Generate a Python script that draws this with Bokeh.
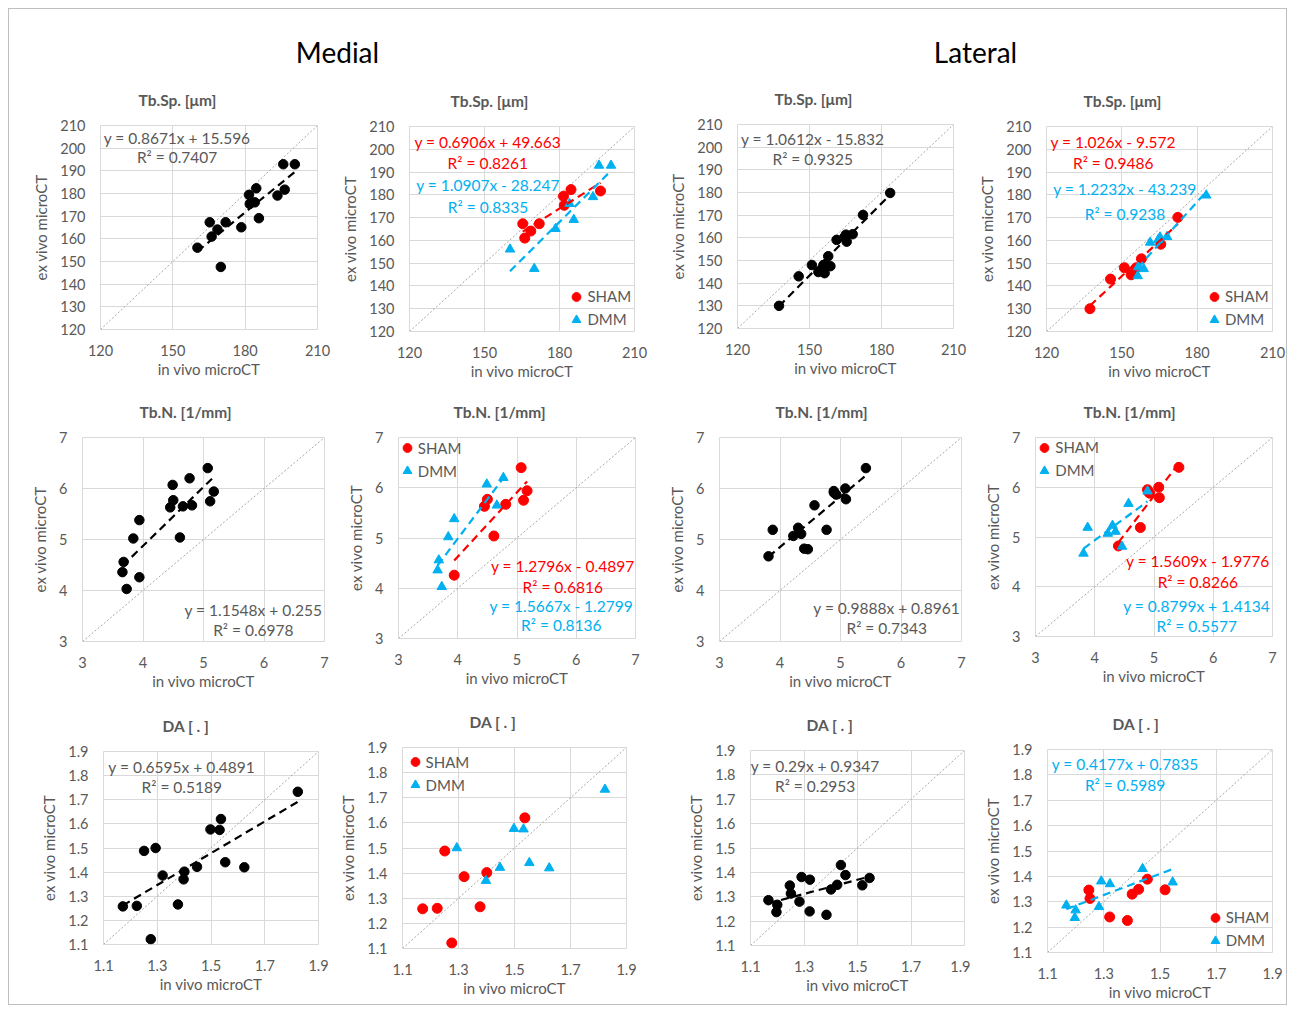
import numpy as np
from bokeh.plotting import figure
from bokeh.layouts import column, row
from bokeh.models import Range1d, FixedTicker, Legend, LegendItem, Label
from bokeh.embed import file_html
from bokeh.resources import INLINE
from bokeh.core.properties import value

# ------------------------------------------------------------------ data
# Tb.Sp. [um] -- medial
med_tbsp_sham_x = [165.3, 166.1, 168.5, 171.9, 181.6, 181.9, 184.6, 196.4]
med_tbsp_sham_y = [167.3, 161.0, 164.1, 167.3, 179.4, 175.4, 182.3, 181.7]
med_tbsp_dmm_x = [160.2, 169.9, 178.4, 184.0, 185.7, 193.4, 195.8, 200.6]
med_tbsp_dmm_y = [156.1, 147.6, 165.1, 176.1, 169.1, 179.1, 192.9, 192.9]
# Tb.Sp. [um] -- lateral
lat_tbsp_sham_x = [137.3, 145.5, 151.0, 153.7, 155.8, 157.8, 165.5, 172.3]
lat_tbsp_sham_y = [130.0, 143.0, 148.0, 144.9, 148.0, 151.9, 158.3, 170.1]
lat_tbsp_dmm_x = [156.3, 156.5, 158.7, 161.3, 164.5, 165.2, 168.0, 183.6]
lat_tbsp_dmm_y = [144.4, 148.3, 147.5, 159.1, 160.3, 161.4, 161.6, 179.8]
# Tb.N. [1/mm] -- medial
med_tbn_sham_x = [3.94, 4.45, 4.50, 4.61, 4.81, 5.07, 5.11, 5.17]
med_tbn_sham_y = [4.26, 5.63, 5.77, 5.04, 5.67, 6.40, 5.75, 5.94]
med_tbn_dmm_x = [3.66, 3.68, 3.73, 3.84, 3.94, 4.49, 4.66, 4.77]
med_tbn_dmm_y = [4.36, 4.56, 4.03, 5.02, 5.38, 6.07, 5.65, 6.20]
# Tb.N. [1/mm] -- lateral
lat_tbn_sham_x = [4.40, 4.77, 4.89, 4.91, 4.93, 5.08, 5.09, 5.42]
lat_tbn_sham_y = [4.82, 5.19, 5.95, 5.90, 5.88, 6.00, 5.79, 6.40]
lat_tbn_dmm_x = [3.81, 3.88, 4.22, 4.30, 4.35, 4.46, 4.57, 4.89]
lat_tbn_dmm_y = [4.67, 5.19, 5.07, 5.23, 5.11, 4.81, 5.67, 5.92]
# DA [.] -- medial
med_da_sham_x = [1.172, 1.224, 1.251, 1.276, 1.320, 1.377, 1.401, 1.537]
med_da_sham_y = [1.258, 1.260, 1.488, 1.122, 1.386, 1.266, 1.402, 1.620]
med_da_dmm_x = [1.294, 1.398, 1.448, 1.498, 1.532, 1.553, 1.624, 1.823]
med_da_dmm_y = [1.500, 1.370, 1.422, 1.577, 1.575, 1.441, 1.420, 1.733]
# DA [.] -- lateral
lat_da_sham_x = [1.247, 1.251, 1.321, 1.384, 1.401, 1.424, 1.455, 1.518]
lat_da_sham_y = [1.346, 1.313, 1.240, 1.226, 1.330, 1.349, 1.389, 1.347]
lat_da_dmm_x = [1.167, 1.197, 1.200, 1.283, 1.291, 1.322, 1.438, 1.545]
lat_da_dmm_y = [1.286, 1.237, 1.267, 1.280, 1.381, 1.370, 1.430, 1.377]

# axes
tbsp_range = [120, 210]
tbsp_xticks = [120, 150, 180, 210]
tbsp_yticks = [120, 130, 140, 150, 160, 170, 180, 190, 200, 210]
tbn_range = [3, 7]
tbn_ticks = [3, 4, 5, 6, 7]
da_range = [1.1, 1.9]
da_xticks = [1.1, 1.3, 1.5, 1.7, 1.9]
da_yticks = [1.1, 1.2, 1.3, 1.4, 1.5, 1.6, 1.7, 1.8, 1.9]

titles = ["Tb.Sp. [\u03bcm]", "Tb.N. [1/mm]", "DA [ . ]"]
side_titles = ["Medial", "Lateral"]
x_label = "in vivo microCT"
y_label = "ex vivo microCT"
group_names = ["SHAM", "DMM"]

# trend lines: (slope, intercept, R2)
eq_med_tbsp_all = (0.8671, 15.596, 0.7407)
eq_med_tbsp_sham = (0.6906, 49.663, 0.8261)
eq_med_tbsp_dmm = (1.0907, -28.247, 0.8335)
eq_lat_tbsp_all = (1.0612, -15.832, 0.9325)
eq_lat_tbsp_sham = (1.026, -9.572, 0.9486)
eq_lat_tbsp_dmm = (1.2232, -43.239, 0.9238)
eq_med_tbn_all = (1.1548, 0.255, 0.6978)
eq_med_tbn_sham = (1.2796, -0.4897, 0.6816)
eq_med_tbn_dmm = (1.5667, -1.2799, 0.8136)
eq_lat_tbn_all = (0.9888, 0.8961, 0.7343)
eq_lat_tbn_sham = (1.5609, -1.9776, 0.8266)
eq_lat_tbn_dmm = (0.8799, 1.4134, 0.5577)
eq_med_da_all = (0.6595, 0.4891, 0.5189)
eq_lat_da_all = (0.29, 0.9347, 0.2953)
eq_lat_da_dmm = (0.4177, 0.7835, 0.5989)

# ------------------------------------------------------------------ style
FONT = "Lato"
GRAY = "#595959"
RED = "#FF0000"
BLUE = "#00B0F0"
BLACK = "#000000"
GRID = "#D9D9D9"

ORIG = 9  # content origin inside the outer frame (8px margin + 1px border)
col_edges = [ORIG, 336, 657, 970, 1286]
row_edges = [69, 382, 692, 1004]


def fmt_eq(s, b):
    sign = "+" if b >= 0 else "-"
    return f"y = {s}x {sign} {abs(b)}"


def make_fig(ci, ri, frame, rng, xt, yt, title, tleft):
    cl, cr = col_edges[ci], col_edges[ci + 1]
    rt, rb = row_edges[ri], row_edges[ri + 1]
    fl, ft, fr, fb = frame
    p = figure(width=cr - cl, height=rb - rt,
               x_range=Range1d(rng[0], rng[1]), y_range=Range1d(rng[0], rng[1]),
               min_border_left=fl - cl, min_border_right=cr - fr,
               min_border_top=ft - rt, min_border_bottom=rb - fb,
               output_backend="svg", toolbar_location=None, tools="")
    p.title.text = title
    p.title.align = "left"
    p.title.offset = tleft - fl
    p.title.text_font = FONT
    p.title.text_font_size = "15.5px"
    p.title.text_font_style = "bold"
    p.title.text_color = GRAY
    p.title.standoff = 33
    p.outline_line_color = GRID
    p.background_fill_color = "white"
    p.border_fill_color = "white"
    for ax, ticks in ((p.xaxis, xt), (p.yaxis, yt)):
        ax.ticker = FixedTicker(ticks=ticks)
        ax.major_label_overrides = {t: (f"{t:g}") for t in ticks}
        ax.axis_line_color = None
        ax.major_tick_line_color = None
        ax.minor_tick_line_color = None
        ax.major_label_text_font = FONT
        ax.major_label_text_font_size = "14.5px"
        ax.major_label_text_color = GRAY
        ax.axis_label_text_font = FONT
        ax.axis_label_text_font_size = "15px"
        ax.axis_label_text_font_style = "normal"
        ax.axis_label_text_color = GRAY
    p.xaxis.axis_label = x_label
    p.yaxis.axis_label = y_label
    p.xaxis.major_label_standoff = 9
    p.xaxis.axis_label_standoff = 1
    p.yaxis.major_label_standoff = 9
    p.yaxis.axis_label_standoff = 7
    p.xgrid.ticker = FixedTicker(ticks=xt)
    p.ygrid.ticker = FixedTicker(ticks=yt)
    p.xgrid.grid_line_color = GRID
    p.ygrid.grid_line_color = GRID
    # identity line
    p.line(x=rng, y=rng, line_color="#A6A6A6", line_width=1, line_dash="2 2")
    return p


def trend(p, xs, coef, color):
    s, b, _ = coef
    xe = [min(xs), max(xs)]
    ye = [s * v + b for v in xe]
    p.line(x=xe, y=ye, line_color=color, line_width=2.2, line_dash="8 5")


def eq_label(p, rng, coef, color, fx, fy1, fy2):
    s, b, r2 = coef
    span = rng[1] - rng[0]
    x = rng[0] + fx * span
    for txt, fy in ((fmt_eq(s, b), fy1), (f"R\u00b2 = {r2}", fy2)):
        p.add_layout(Label(x=x, y=rng[0] + fy * span, text=txt, text_align="center",
                           text_baseline="middle", text_font=FONT,
                           text_font_size="15.5px", text_color=color))


def legend(p, r_s, r_d, frame, fx, fy):
    fl, ft, fr, fb = frame
    fw, fh = fr - fl, fb - ft
    lg = Legend(items=[LegendItem(label=group_names[0], renderers=[r_s]),
                       LegendItem(label=group_names[1], renderers=[r_d])],
                location=(fx * fw - 11, fy * fh - 11.5),
                background_fill_alpha=0, border_line_color=None,
                padding=0, margin=0, spacing=0, glyph_width=22, glyph_height=23,
                label_height=23, label_standoff=0, label_text_font=FONT,
                label_text_font_size="15px", label_text_color=GRAY)
    p.add_layout(lg, "center")


def combined(ci, ri, frame, rng, xt, yt, title, tl, sx, sy, dx, dy, coef, efx, efy1, efy2):
    p = make_fig(ci, ri, frame, rng, xt, yt, title, tl)
    ax = list(sx) + list(dx)
    ay = list(sy) + list(dy)
    p.scatter(x=ax, y=ay, size=9.5, marker="circle", color=BLACK)
    trend(p, ax, coef, BLACK)
    eq_label(p, rng, coef, GRAY, efx, efy1, efy2)
    return p


def grouped(ci, ri, frame, rng, xt, yt, title, tl, sx, sy, dx, dy, eqs, leg):
    p = make_fig(ci, ri, frame, rng, xt, yt, title, tl)
    r_s = p.scatter(x=sx, y=sy, size=10, marker="circle", color=RED)
    r_d = p.scatter(x=dx, y=dy, size=9.5, marker="triangle", color=BLUE)
    for grp, coef, efx, efy1, efy2 in eqs:
        xs = sx if grp == 0 else dx
        col = RED if grp == 0 else BLUE
        trend(p, xs, coef, col)
        eq_label(p, rng, coef, col, efx, efy1, efy2)
    legend(p, r_s, r_d, frame, leg[0], leg[1])
    return p


p1 = combined(0, 0, (100, 125, 317, 329), tbsp_range, tbsp_xticks, tbsp_yticks, titles[0], 138,
              med_tbsp_sham_x, med_tbsp_sham_y, med_tbsp_dmm_x, med_tbsp_dmm_y,
              eq_med_tbsp_all, 0.353, 0.938, 0.845)
p2 = grouped(1, 0, (409, 126, 634, 332), tbsp_range, tbsp_xticks, tbsp_yticks, titles[0], 450,
             med_tbsp_sham_x, med_tbsp_sham_y, med_tbsp_dmm_x, med_tbsp_dmm_y,
             [(0, eq_med_tbsp_sham, 0.348, 0.924, 0.822), (1, eq_med_tbsp_dmm, 0.349, 0.713, 0.608)],
             (0.744, 0.057))
p3 = combined(2, 0, (737, 124, 953, 328), tbsp_range, tbsp_xticks, tbsp_yticks, titles[0], 774,
              lat_tbsp_sham_x, lat_tbsp_sham_y, lat_tbsp_dmm_x, lat_tbsp_dmm_y,
              eq_lat_tbsp_all, 0.348, 0.931, 0.830)
p4 = grouped(3, 0, (1046, 126, 1272, 332), tbsp_range, tbsp_xticks, tbsp_yticks, titles[0], 1083,
             lat_tbsp_sham_x, lat_tbsp_sham_y, lat_tbsp_dmm_x, lat_tbsp_dmm_y,
             [(0, eq_lat_tbsp_sham, 0.295, 0.925, 0.823), (1, eq_lat_tbsp_dmm, 0.347, 0.694, 0.575)],
             (0.743, 0.057))

p5 = combined(0, 1, (82, 437, 324, 641), tbn_range, tbn_ticks, tbn_ticks, titles[1], 139,
              med_tbn_sham_x, med_tbn_sham_y, med_tbn_dmm_x, med_tbn_dmm_y,
              eq_med_tbn_all, 0.706, 0.152, 0.054)
p6 = grouped(1, 1, (398, 437, 635, 638), tbn_range, tbn_ticks, tbn_ticks, titles[1], 453,
             med_tbn_sham_x, med_tbn_sham_y, med_tbn_dmm_x, med_tbn_dmm_y,
             [(0, eq_med_tbn_sham, 0.693, 0.362, 0.254), (1, eq_med_tbn_dmm, 0.687, 0.163, 0.066)],
             (0.037, 0.833))
p7 = combined(2, 1, (719, 437, 961, 641), tbn_range, tbn_ticks, tbn_ticks, titles[1], 775,
              lat_tbn_sham_x, lat_tbn_sham_y, lat_tbn_dmm_x, lat_tbn_dmm_y,
              eq_lat_tbn_all, 0.691, 0.164, 0.064)
p8 = grouped(3, 1, (1035, 437, 1272, 636), tbn_range, tbn_ticks, tbn_ticks, titles[1], 1083,
             lat_tbn_sham_x, lat_tbn_sham_y, lat_tbn_dmm_x, lat_tbn_dmm_y,
             [(0, eq_lat_tbn_sham, 0.685, 0.380, 0.276), (1, eq_lat_tbn_dmm, 0.680, 0.151, 0.054)],
             (0.039, 0.832))

p9 = combined(0, 2, (103, 751, 318, 944), da_range, da_xticks, da_yticks, titles[2], 162,
              med_da_sham_x, med_da_sham_y, med_da_dmm_x, med_da_dmm_y,
              eq_med_da_all, 0.364, 0.921, 0.814)
p10 = grouped(1, 2, (401, 747, 626, 948), da_range, da_xticks, da_yticks, titles[2], 468,
              med_da_sham_x, med_da_sham_y, med_da_dmm_x, med_da_dmm_y,
              [], (0.056, 0.813))
p11 = combined(2, 2, (750, 750, 964, 945), da_range, da_xticks, da_yticks, titles[2], 806,
               lat_da_sham_x, lat_da_sham_y, lat_da_dmm_x, lat_da_dmm_y,
               eq_lat_da_all, 0.302, 0.923, 0.817)
p12 = grouped(3, 2, (1047, 749, 1272, 952), da_range, da_xticks, da_yticks, titles[2], 1112,
              lat_da_sham_x, lat_da_sham_y, lat_da_dmm_x, lat_da_dmm_y,
              [(1, eq_lat_da_dmm, 0.345, 0.931, 0.824)], (0.745, 0.058))

# header with "Medial" / "Lateral"
W = col_edges[-1] - col_edges[0]
H = row_edges[0] - ORIG
hdr = figure(width=W, height=H, x_range=Range1d(0, W), y_range=Range1d(0, H),
             min_border=0, output_backend="svg", toolbar_location=None, tools="")
hdr.axis.visible = False
hdr.grid.visible = False
hdr.outline_line_color = None
hdr.text(x=[337 - ORIG, 975 - ORIG], y=[H - (51 - ORIG)] * 2, text=side_titles,
         text_align="center", text_baseline="middle", text_font=value(FONT),
         text_font_size="28px", text_color="#000000")


def cell(p):
    # own box per panel so that each panel keeps its own plot-area position
    return column(p)


layout = column(hdr,
                row(cell(p1), cell(p2), cell(p3), cell(p4)),
                row(cell(p5), cell(p6), cell(p7), cell(p8)),
                row(cell(p9), cell(p10), cell(p11), cell(p12)),
                margin=(8, 0, 0, 8), styles={"border": "1px solid #BFBFBF"})
open("out.html", "w").write(file_html(layout, INLINE))
